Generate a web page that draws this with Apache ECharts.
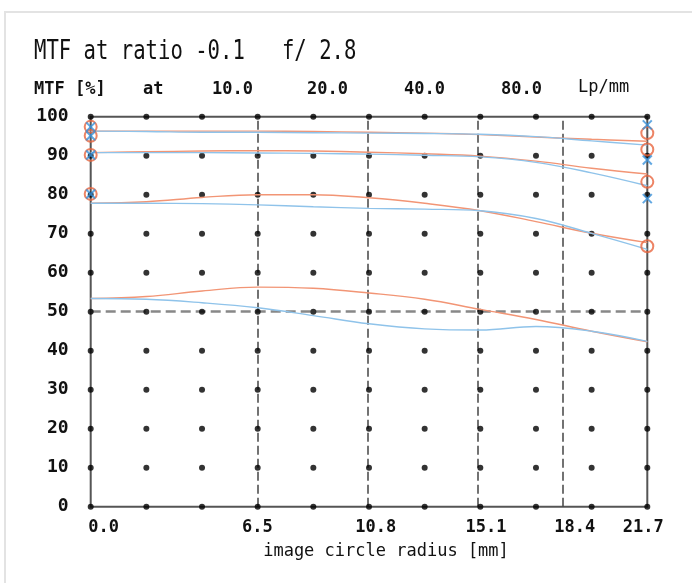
<!DOCTYPE html>
<html>
<head>
<meta charset="utf-8">
<script src="https://cdn.jsdelivr.net/npm/echarts@6/dist/echarts.min.js"></script>
<style>html,body{margin:0;padding:0;background:#fff;}#c{width:692px;height:583px;}</style>
</head>
<body>
<div id="c"></div>
<script>
// ---- data ----
const titleText = 'MTF at ratio -0.1   f/ 2.8';
const freqs = ['10.0', '20.0', '40.0', '80.0'];
const xMax = 21.7;
const sampleX = [0, 2.17, 4.34, 6.51, 8.68, 10.85, 13.02, 15.19, 17.36, 19.53, 21.7];
const yTicks = [0, 10, 20, 30, 40, 50, 60, 70, 80, 90, 100];
const xLabelValues = [0, 6.5, 10.8, 15.1, 18.4, 21.7];
const dashedX = [6.5, 10.8, 15.1, 18.4];
const refY = 50;

const mer10 = [96.3, 96.3, 96.3, 96.3, 96.2, 96.0, 95.8, 95.4, 94.8, 94.2, 93.7];
const sag10 = [96.3, 96.2, 96.0, 96.0, 95.9, 95.8, 95.7, 95.5, 94.9, 93.8, 92.7];
const mer20 = [90.8, 91.0, 91.2, 91.3, 91.2, 90.9, 90.5, 89.9, 88.6, 86.8, 85.3];
const sag20 = [90.8, 90.8, 90.8, 90.7, 90.6, 90.4, 90.1, 89.7, 88.3, 85.6, 82.3];
const mer40 = [77.8, 78.2, 79.3, 80.0, 80.0, 79.2, 77.8, 75.9, 73.1, 70.1, 67.7];
const sag40 = [77.8, 77.8, 77.7, 77.4, 76.9, 76.5, 76.3, 75.9, 73.9, 70.1, 66.0];
const mer80 = [53.4, 53.9, 55.3, 56.3, 56.0, 54.8, 53.2, 50.6, 48.0, 45.0, 42.3];
const sag80 = [53.4, 53.2, 52.3, 51.0, 49.0, 46.9, 45.6, 45.3, 46.2, 45.0, 42.4];

const leftMarkers = [97.4, 95.1, 90.2, 80.2];
const rightCircles = [95.8, 91.6, 83.3, 66.8];
const rightCrosses = [97.9, 88.9, 79.0];

// ---- chart ----
const ORANGE_LINE = '#f29575';
const BLUE_LINE = '#8fc3ea';
const ORANGE_MK = '#e8653e';
const BLUE_MK = '#3b92db';
const MONO = '"DejaVu Sans Mono", "Liberation Mono", monospace';

const chart = echarts.init(document.getElementById('c'), null, {renderer: 'canvas'});

const dots = [];
sampleX.forEach(x => yTicks.forEach(y => dots.push([x, y])));

function curve(name, ys, color) {
  return {
    name: name, type: 'line', data: sampleX.map((x, i) => [x, ys[i]]),
    smooth: 0.4, showSymbol: false, silent: true, z: 4,
    lineStyle: {color: color, width: 1.4}
  };
}

const xPad = {0: [0, 0, 0, 26], 10.8: [0, 0, 0, 16], 15.1: [0, 0, 0, 16], 18.4: [0, 0, 0, 24], 21.7: [0, 8, 0, 0]};
const rich = {};
xLabelValues.forEach((v, i) => {
  rich['l' + i] = {padding: xPad[v] || [0, 0, 0, 0], fontFamily: MONO, fontWeight: 'bold', fontSize: 17, color: '#111'};
});

const xSym = 'path://M0,0L10,10M10,0L0,10';

const option = {
  animation: false,
  backgroundColor: '#fff',
  grid: {left: 90.7, top: 116.7, width: 556.6, height: 390, show: true, borderColor: '#555', borderWidth: 2, backgroundColor: 'transparent'},
  xAxis: {
    type: 'value', min: 0, max: xMax,
    axisLine: {show: false}, axisTick: {show: false}, splitLine: {show: false},
    axisLabel: {
      customValues: xLabelValues, margin: 12,
      formatter: function (v) {
        const i = xLabelValues.indexOf(v);
        return '{l' + (i < 0 ? 0 : i) + '|' + v.toFixed(1) + '}';
      },
      rich: rich
    }
  },
  yAxis: {
    type: 'value', min: 0, max: 100, interval: 10,
    axisLine: {show: false}, axisTick: {show: false}, splitLine: {show: false},
    axisLabel: {margin: 22, fontFamily: MONO, fontWeight: 'bold', fontSize: 18, color: '#111'}
  },
  graphic: [
    {type: 'rect', shape: {x: 5, y: 12, width: 900, height: 800}, style: {fill: 'none', stroke: '#e3e3e3', lineWidth: 2}, silent: true},
    {type: 'text', x: 34, y: 52, scaleY: 1.25, style: {text: titleText, font: '20.6px ' + MONO, fill: '#111', textVerticalAlign: 'middle'}},
    {type: 'text', x: 34, y: 90, style: {text: 'MTF [%]', font: 'bold 17px ' + MONO, fill: '#111', textVerticalAlign: 'middle'}},
    {type: 'text', x: 143, y: 90, style: {text: 'at', font: 'bold 17px ' + MONO, fill: '#111', textVerticalAlign: 'middle'}},
    {type: 'text', x: 212, y: 90, style: {text: freqs[0], font: 'bold 17px ' + MONO, fill: '#111', textVerticalAlign: 'middle'}},
    {type: 'text', x: 307, y: 90, style: {text: freqs[1], font: 'bold 17px ' + MONO, fill: '#111', textVerticalAlign: 'middle'}},
    {type: 'text', x: 404, y: 90, style: {text: freqs[2], font: 'bold 17px ' + MONO, fill: '#111', textVerticalAlign: 'middle'}},
    {type: 'text', x: 501, y: 90, style: {text: freqs[3], font: 'bold 17px ' + MONO, fill: '#111', textVerticalAlign: 'middle'}},
    {type: 'text', x: 578, y: 88, style: {text: 'Lp/mm', font: '17px ' + MONO, fill: '#111', textVerticalAlign: 'middle'}},
    {type: 'text', x: 386, y: 552, style: {text: 'image circle radius [mm]', font: '17px ' + MONO, fill: '#111', textAlign: 'center', textVerticalAlign: 'middle'}}
  ],
  series: [
    {
      name: 'grid dots', type: 'scatter', data: dots, symbol: 'circle', symbolSize: 6, silent: true, z: 3,
      itemStyle: {color: '#000'},
      markLine: {
        silent: true, symbol: 'none', label: {show: false}, z: 2,
        data: dashedX.map(x => ({xAxis: x, lineStyle: {color: '#444', width: 1.5, type: [9, 4]}}))
          .concat([{yAxis: refY, lineStyle: {color: '#888', width: 2.5, type: [10, 5]}}])
      }
    },
    curve('80 mer', mer80, ORANGE_LINE),
    curve('80 sag', sag80, BLUE_LINE),
    curve('40 mer', mer40, ORANGE_LINE),
    curve('40 sag', sag40, BLUE_LINE),
    curve('20 mer', mer20, ORANGE_LINE),
    curve('20 sag', sag20, BLUE_LINE),
    curve('10 mer', mer10, ORANGE_LINE),
    curve('10 sag', sag10, BLUE_LINE),
    {
      name: 'circles', type: 'scatter', silent: true, z: 6, symbol: 'circle', symbolSize: 12,
      data: leftMarkers.map(v => [0, v]).concat(rightCircles.map(v => [xMax, v])),
      itemStyle: {color: 'transparent', borderColor: ORANGE_MK, borderWidth: 2}
    },
    {
      name: 'crosses', type: 'scatter', silent: true, z: 7, symbol: xSym, symbolSize: 9,
      data: leftMarkers.map(v => [0, v]).concat(rightCrosses.map(v => [xMax, v])),
      itemStyle: {color: 'transparent', borderColor: BLUE_MK, borderWidth: 2}
    }
  ]
};
chart.setOption(option);
</script>
</body>
</html>
